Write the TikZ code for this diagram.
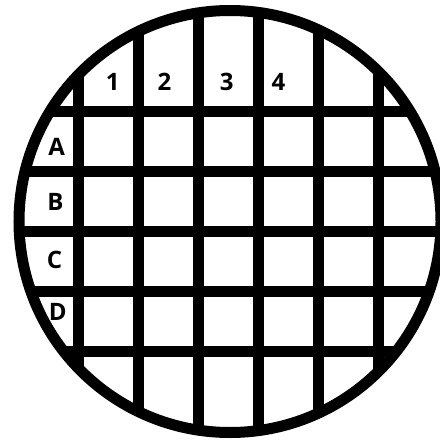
\documentclass[tikz,border=0pt]{standalone}
\usepackage{fontspec}
\setmainfont{Open Sans}
\begin{document}
\begin{tikzpicture}[x=1pt,y=-1pt,
  gridline/.style={line width=11pt,black},
  rim/.style={line width=11pt,black},
  lab/.style={font=\bfseries\fontsize{24}{24}\selectfont, inner sep=0pt, text=black}]
\useasboundingbox (0,0) rectangle (439,441);
\fill[white] (0,0) rectangle (439,441);
\begin{scope}
  \clip (230,221.5) circle [radius=211pt];
  \foreach \x in {78.5,138.5,198.5,258.5,318.5,378.5}
    \draw[gridline] (\x,0) -- (\x,441);
  \foreach \y in {111.5,171.5,231.5,291.5,351.5}
    \draw[gridline] (0,\y) -- (439,\y);
\end{scope}
\draw[rim] (230,221.5) circle [radius=211pt];
\node[lab] (c1) at (112.7,82) {1};
\node[lab] (c2) at (164.5,82) {2};
\node[lab] (c3) at (226.7,82) {3};
\node[lab] (c4) at (278.5,82) {4};
\node[lab] (rA) at (56.7,146.7) {A};
\node[lab] (rB) at (55.5,201.7) {B};
\node[lab] (rC) at (54.5,260) {C};
\node[lab] (rD) at (57.7,311.7) {D};
\end{tikzpicture}
\end{document}
